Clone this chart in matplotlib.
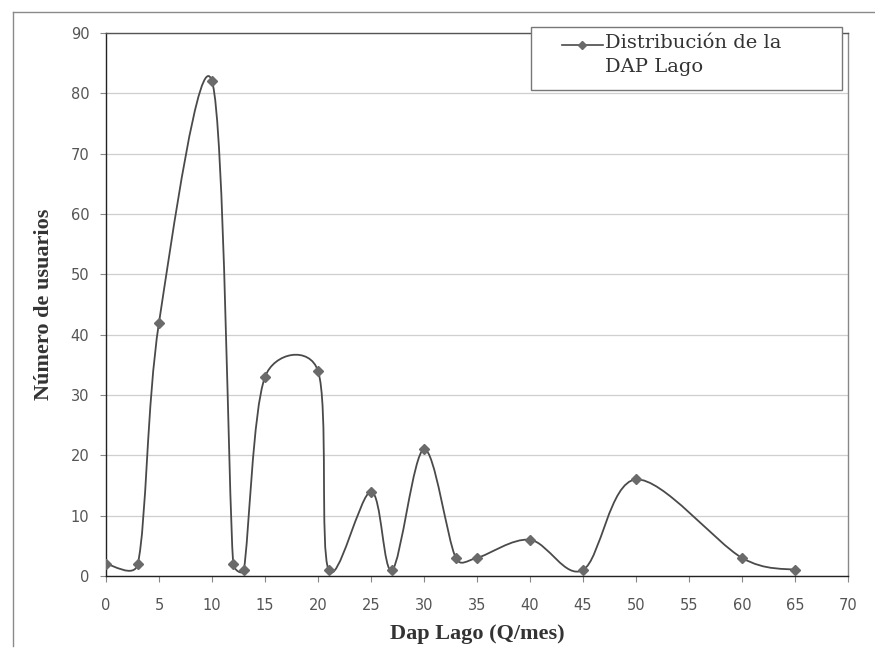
import numpy as np
import matplotlib.pyplot as plt
from matplotlib.path import Path
from matplotlib.patches import PathPatch, Rectangle
from matplotlib.lines import Line2D

# datos
dap = [0, 3, 5, 10, 12, 13, 15, 20, 21, 25, 27, 30, 33, 35, 40, 45, 50, 60, 65]
usuarios = [2, 2, 42, 82, 2, 1, 33, 34, 1, 14, 1, 21, 3, 3, 6, 1, 16, 3, 1]
x_ticks = list(range(0, 75, 5))
y_ticks = list(range(0, 100, 10))
serie = 'Distribución de la\nDAP Lago'


def smooth_path(ax, xs, ys):
    # curva suavizada estilo Excel: bezier por tramos, calculada en pixeles
    pts = ax.transData.transform(np.column_stack([xs, ys]).astype(float))
    n = len(pts)
    verts = [pts[0]]
    codes = [Path.MOVETO]
    for i in range(n - 1):
        p0 = pts[i - 1] if i > 0 else pts[i]
        p1 = pts[i]
        p2 = pts[i + 1]
        p3 = pts[i + 2] if i + 2 < n else pts[i + 1]
        d12 = np.hypot(*(p2 - p1))
        d02 = np.hypot(*(p2 - p0))
        d13 = np.hypot(*(p3 - p1))
        f1 = 1 / 6 if d02 / 6 < d12 / 2 else d12 / (2 * d02)
        f2 = 1 / 6 if d13 / 6 < d12 / 2 else d12 / (2 * d13)
        verts += [p1 + f1 * (p2 - p0), p2 - f2 * (p3 - p1), p2]
        codes += [Path.CURVE4] * 3
    verts = ax.transData.inverted().transform(np.array(verts))
    return Path(verts, codes)


fig = plt.figure(figsize=(8.75, 6.48), dpi=100)
ax = fig.add_axes([106 / 875, 1 - 576 / 648, (848 - 106) / 875, (576 - 33) / 648])
ax.set_xlim(0, 70)
ax.set_ylim(0, 90)

line_col = '#4a4a4a'
ax.add_patch(PathPatch(smooth_path(ax, dap, usuarios), fill=False,
                       edgecolor=line_col, lw=1.3, zorder=3))
ax.plot(dap, usuarios, linestyle='none', marker='D', markersize=5,
        color='#6a6a6a', zorder=4)

ax.set_xticks(x_ticks)
ax.set_yticks(y_ticks)
ax.tick_params(axis='both', direction='out', length=4, width=0.8,
               colors='#888888', labelcolor='#555555', labelsize=10.5)
ax.tick_params(axis='x', pad=12)
ax.tick_params(axis='y', pad=8)
ax.yaxis.grid(True, color='#cfcfcf', lw=0.9)
ax.set_axisbelow(True)

ax.spines['left'].set_color('#222222')
ax.spines['bottom'].set_color('#222222')
ax.spines['top'].set_color('#555555')
ax.spines['right'].set_color('#888888')
for s in ax.spines.values():
    s.set_linewidth(1.0)

serif = ['Liberation Serif', 'DejaVu Serif']
ax.set_xlabel('Dap Lago (Q/mes)', family=serif, fontweight='bold',
              fontsize=16, color='#333333', labelpad=8)
ax.set_ylabel('Número de usuarios', family=serif, fontweight='bold',
              fontsize=16, color='#333333', labelpad=12)

# leyenda dibujada a mano (caja, muestra y texto)
px = lambda x, y: (x / 875, 1 - y / 648)
fig.add_artist(Rectangle(px(531, 90), 311 / 875, 63 / 648,
                         transform=fig.transFigure, facecolor='white',
                         edgecolor='#777777', lw=1.0, zorder=10))
fig.add_artist(Line2D([562 / 875, 603 / 875], [1 - 45 / 648] * 2,
                      transform=fig.transFigure, color=line_col, lw=1.2,
                      zorder=11))
fig.add_artist(Line2D([582 / 875], [1 - 45 / 648], transform=fig.transFigure,
                      marker='D', markersize=4, color='#6a6a6a', zorder=12))
fig.text(*px(605, 34), serie, family=['DejaVu Serif'], fontsize=14,
         color='#333333', va='top', ha='left', linespacing=1.45, zorder=12)

# borde del area del grafico
fig.add_artist(Line2D([13 / 875, 13 / 875], [2 / 648, 1 - 12 / 648],
                      transform=fig.transFigure, color='#8a8a8a', lw=1.0))
fig.add_artist(Line2D([13 / 875, 1.0], [1 - 12 / 648, 1 - 12 / 648],
                      transform=fig.transFigure, color='#8a8a8a', lw=1.0))

fig.savefig('out.png', dpi=100)
